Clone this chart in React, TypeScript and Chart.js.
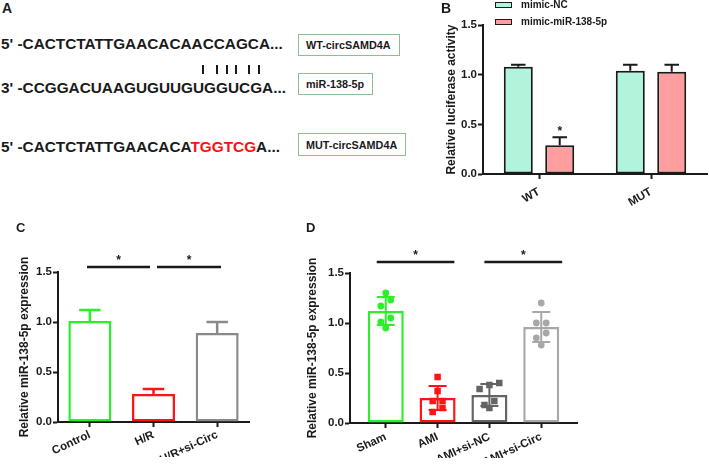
import React, { useEffect, useRef } from "react";
import { Chart, registerables } from "chart.js";

Chart.register(...registerables);

const FONT = "'Liberation Sans', Arial, Helvetica, sans-serif";
const INK = "#1a1a1a";

// ---------- Panel A : sequence alignment ----------
const seqWT = "CACTCTATTGAACACAACCAGCA";
const seqMiR = "CCGGACUAAGUGUUGUGGUCGA";
const seqMutHead = "CACTCTATTGAACACA";
const seqMutSite = "TGGTCG";
const seqMutTail = "A";
const boxLabels = ["WT-circSAMD4A", "miR-138-5p", "MUT-circSAMD4A"];

// ---------- Panel B : luciferase ----------
const bGroups = ["WT", "MUT"];
const bSeries = ["mimic-NC", "mimic-miR-138-5p"];
const bNC = [1.08, 1.04];
const bNCErr = [0.02, 0.06];
const bMiR = [0.29, 1.03];
const bMiRErr = [0.08, 0.07];

// ---------- Panel C ----------
const cGroups = ["Control", "H/R", "H/R+si-Circ"];
const cMeans = [1.01, 0.28, 0.89];
const cErr = [0.11, 0.05, 0.11];

// ---------- Panel D ----------
const dGroups = ["Sham", "AMI", "AMI+si-NC", "AMI+si-Circ"];
const dMeans = [1.12, 0.25, 0.28, 0.96];
const dErr = [0.14, 0.12, 0.11, 0.15];
const dShamPts = [1.3, 1.23, 1.17, 1.05, 1.01, 0.95];
const dAmiPts = [0.46, 0.32, 0.22, 0.22, 0.15, 0.11];
const dAmiNcPts = [0.4, 0.38, 0.34, 0.22, 0.18, 0.15];
const dAmiCircPts = [1.2, 1.0, 1.0, 0.9, 0.85, 0.78];

const yTickValues = [0, 0.5, 1.0, 1.5];

// ---------- styles ----------
const B_COLORS = ["#b0f4dc", "#ff9e9e"];
const C_COLORS = ["#2af02a", "#ff1414", "#8a8a8a"];
const D_COLORS = ["#2af02a", "#ff1414", "#646464", "#a8a8a8"];
const D_STYLES = ["circle", "rect", "rect", "circle"];

function swarmOffsets(values: number[], bin: number, step: number): number[] {
  const order = values.map((_, i) => i).sort((a, b) => values[b] - values[a]);
  const out = new Array(values.length).fill(0);
  let row: number[] = [];
  const flush = () => {
    const n = row.length;
    row.forEach((idx, k) => {
      out[idx] = ((n - 1) / 2 - k) * step;
    });
    row = [];
  };
  order.forEach((idx) => {
    if (row.length && values[row[0]] - values[idx] > bin) flush();
    row.push(idx);
  });
  flush();
  return out;
}

const errorBars = {
  id: "errorBars",
  afterDatasetDraw(chart: any, args: any) {
    const ds = chart.data.datasets[args.index];
    if (!ds.errors) return;
    const ys = chart.scales.y;
    const ctx = chart.ctx;
    ctx.save();
    args.meta.data.forEach((bar: any, i: number) => {
      const mean = ds.means[i];
      const e = ds.errors[i];
      const col = Array.isArray(ds.errorColor) ? ds.errorColor[i] : ds.errorColor;
      const x = bar.x;
      const half = bar.width / 4;
      const top = ys.getPixelForValue(mean + e);
      const bottom = ys.getPixelForValue(ds.errorBoth ? mean - e : mean);
      ctx.strokeStyle = col;
      ctx.lineWidth = ds.errorWidth;
      ctx.beginPath();
      ctx.moveTo(x, bottom);
      ctx.lineTo(x, top);
      ctx.moveTo(x - half, top);
      ctx.lineTo(x + half, top);
      if (ds.errorBoth) {
        ctx.moveTo(x - half, bottom);
        ctx.lineTo(x + half, bottom);
      }
      ctx.stroke();
    });
    ctx.restore();
  },
};

function drawStar(ctx: any, x: number, y: number) {
  ctx.save();
  ctx.fillStyle = INK;
  ctx.font = `bold 12px ${FONT}`;
  ctx.textAlign = "center";
  ctx.textBaseline = "alphabetic";
  ctx.fillText("*", x, y + 7);
  ctx.restore();
}

function makeSig(from: number[], to: number[], level: number, starLevel: number) {
  return {
    id: "sigMarks",
    afterDraw(chart: any) {
      const xs = chart.scales.x;
      const ys = chart.scales.y;
      const ctx = chart.ctx;
      ctx.save();
      ctx.strokeStyle = INK;
      ctx.lineWidth = 2.5;
      from.forEach((f, i) => {
        const x1 = xs.getPixelForValue(f);
        const x2 = xs.getPixelForValue(to[i]);
        const y = ys.getPixelForValue(level);
        ctx.beginPath();
        ctx.moveTo(x1, y);
        ctx.lineTo(x2, y);
        ctx.stroke();
        drawStar(ctx, (x1 + x2) / 2, ys.getPixelForValue(starLevel));
      });
      ctx.restore();
    },
  };
}

function makeBarStar(datasetIndex: number, index: number, value: number) {
  return {
    id: "barStar",
    afterDraw(chart: any) {
      const el = chart.getDatasetMeta(datasetIndex).data[index];
      drawStar(chart.ctx, el.x, chart.scales.y.getPixelForValue(value));
    },
  };
}

const tickFont = { family: FONT, size: 11.5, weight: "bold" as const };

function yAxis(title: string, width: number, titlePad: number) {
  return {
    type: "linear",
    min: 0,
    max: 1.5,
    afterBuildTicks: (s: any) => {
      s.ticks = yTickValues.map((v) => ({ value: v }));
    },
    afterFit: (s: any) => {
      s.width = width;
    },
    ticks: {
      callback: (v: any) => Number(v).toFixed(1),
      font: tickFont,
      color: INK,
      padding: 1,
    },
    grid: {
      display: true,
      drawOnChartArea: false,
      drawTicks: true,
      tickLength: 5,
      tickColor: INK,
      tickWidth: 2,
    },
    border: { display: true, color: INK, width: 2 },
    title: {
      display: true,
      text: title,
      font: { family: FONT, size: 12, weight: "bold" },
      color: INK,
      padding: { top: titlePad, bottom: 0 },
    },
  };
}

function xGrid() {
  return {
    display: true,
    offset: false,
    drawOnChartArea: false,
    drawTicks: true,
    tickLength: 5,
    tickColor: INK,
    tickWidth: 2,
  };
}

function baseOptions(padding: any) {
  return {
    responsive: false,
    animation: false,
    devicePixelRatio: 1,
    layout: { padding },
    plugins: { legend: { display: false }, tooltip: { enabled: false } },
  };
}

function configB(): any {
  return {
    type: "bar",
    data: {
      labels: bGroups,
      datasets: [
        {
          label: bSeries[0],
          data: bNC,
          means: bNC,
          errors: bNCErr,
          errorColor: INK,
          errorWidth: 2,
          backgroundColor: B_COLORS[0],
          borderColor: INK,
          borderWidth: 2,
          borderSkipped: false,
          categoryPercentage: 0.74,
          barPercentage: 0.7,
        },
        {
          label: bSeries[1],
          data: bMiR,
          means: bMiR,
          errors: bMiRErr,
          errorColor: INK,
          errorWidth: 2,
          backgroundColor: B_COLORS[1],
          borderColor: INK,
          borderWidth: 2,
          borderSkipped: false,
          categoryPercentage: 0.74,
          barPercentage: 0.7,
        },
      ],
    },
    options: {
      ...baseOptions({ left: 0, top: 25, right: 2, bottom: 16 }),
      scales: {
        x: {
          type: "category",
          offset: true,
          afterFit: (s: any) => {
            s.height = 40;
          },
          grid: xGrid(),
          border: { display: true, color: INK, width: 2 },
          ticks: { minRotation: 30, maxRotation: 30, autoSkip: false, font: tickFont, color: INK, padding: 6 },
        },
        y: yAxis("Relative luciferase activity", 43, 4.8),
      },
    },
    plugins: [errorBars, makeBarStar(1, 0, 0.46)],
  };
}

function configC(): any {
  return {
    type: "bar",
    data: {
      labels: cGroups,
      datasets: [
        {
          label: "C",
          data: cMeans,
          means: cMeans,
          errors: cErr,
          errorColor: C_COLORS,
          errorWidth: 2.5,
          backgroundColor: "#ffffff",
          borderColor: C_COLORS,
          borderWidth: 2.5,
          borderSkipped: false,
          categoryPercentage: 1,
          barPercentage: 0.675,
        },
      ],
    },
    options: {
      ...baseOptions({ left: 0, top: 57, right: 51, bottom: 10 }),
      scales: {
        x: {
          type: "category",
          offset: true,
          afterFit: (s: any) => {
            s.height = 35;
          },
          grid: xGrid(),
          border: { display: true, color: INK, width: 2 },
          ticks: { minRotation: 25, maxRotation: 25, autoSkip: false, font: tickFont, color: INK, padding: 1 },
        },
        y: yAxis("Relative miR-138-5p expression", 58, 17.8),
      },
    },
    plugins: [errorBars, makeSig([-0.044, 1.055], [0.945, 2.06], 1.55, 1.65)],
  };
}

function configD(): any {
  const groups = [dShamPts, dAmiPts, dAmiNcPts, dAmiCircPts];
  const scatterSets = groups.map((pts, g) => {
    const off = swarmOffsets(pts, 0.065, 0.19);
    return {
      type: "scatter",
      label: dGroups[g],
      data: pts.map((v, k) => ({ x: g + off[k], y: v })),
      pointStyle: D_STYLES[g],
      pointRadius: D_STYLES[g] === "rect" ? 4.6 : 3.4,
      pointHoverRadius: 0,
      backgroundColor: D_COLORS[g],
      borderColor: D_COLORS[g],
      borderWidth: 0,
      order: 1,
      clip: false,
    };
  });
  return {
    type: "bar",
    data: {
      datasets: [
        {
          type: "bar",
          label: "mean",
          data: dMeans.map((m, i) => ({ x: i, y: m })),
          means: dMeans,
          errors: dErr,
          errorBoth: true,
          errorColor: D_COLORS,
          errorWidth: 2,
          backgroundColor: "#ffffff",
          borderColor: D_COLORS,
          borderWidth: 2.5,
          borderSkipped: false,
          categoryPercentage: 1,
          barPercentage: 0.695,
          order: 2,
        },
        ...scatterSets,
      ],
    },
    options: {
      ...baseOptions({ left: 0, top: 58, right: 23, bottom: 9 }),
      scales: {
        x: {
          type: "linear",
          min: -0.69,
          max: 3.69,
          offset: false,
          afterBuildTicks: (s: any) => {
            s.ticks = dGroups.map((_, i) => ({ value: i }));
          },
          afterFit: (s: any) => {
            s.height = 35;
          },
          grid: xGrid(),
          border: { display: true, color: INK, width: 2 },
          ticks: {
            callback: (v: any) => dGroups[v],
            minRotation: 25,
            maxRotation: 25,
            autoSkip: false,
            font: tickFont,
            color: INK,
            padding: 2,
          },
        },
        y: yAxis("Relative miR-138-5p expression", 50, 5.8),
      },
    },
    plugins: [errorBars, makeSig([-0.174, 1.903], [1.324, 3.404], 1.61, 1.71)],
  };
}

function ChartBox(props: { left: number; top: number; width: number; height: number; make: () => any }) {
  const ref = useRef<HTMLCanvasElement>(null);
  useEffect(() => {
    const chart = new Chart(ref.current as HTMLCanvasElement, props.make());
    return () => chart.destroy();
  }, []);
  return (
    <canvas
      ref={ref}
      width={props.width}
      height={props.height}
      style={{ position: "absolute", left: props.left, top: props.top, width: props.width, height: props.height }}
    />
  );
}

function Txt(props: { x: number; base: number; size: number; color?: string; children: any }) {
  const { x, base, size } = props;
  return (
    <div
      style={{
        position: "absolute",
        left: x,
        top: base - 0.8465 * size,
        fontSize: size,
        lineHeight: `${size}px`,
        fontWeight: 700,
        fontFamily: FONT,
        color: props.color || INK,
        whiteSpace: "pre",
      }}
    >
      {props.children}
    </div>
  );
}

function LabelBox(props: { x: number; y: number; w: number; h: number; text: string }) {
  return (
    <div
      style={{
        position: "absolute",
        left: props.x,
        top: props.y,
        width: props.w,
        height: props.h,
        boxSizing: "border-box",
        border: "1.5px solid #8cbf8c",
        display: "flex",
        alignItems: "center",
        paddingLeft: 7,
        fontFamily: FONT,
        fontWeight: 700,
        fontSize: 10.8,
        color: INK,
        whiteSpace: "pre",
      }}
    >
      {props.text}
    </div>
  );
}

const pairBarX = [203, 216.5, 226.5, 236, 249, 259];
const SEQ_SIZE = 15.35;

export default function App() {
  return (
    <div style={{ position: "absolute", left: 0, top: 0, width: 709, height: 467, background: "#fff", overflow: "hidden" }}>
      <ChartBox left={440} top={0} width={269} height={230} make={configB} />
      <ChartBox left={0} top={215} width={300} height={252} make={configC} />
      <ChartBox left={300} top={215} width={300} height={252} make={configD} />

      {/* Panel A */}
      <Txt x={2} base={13.3} size={14}>A</Txt>
      <Txt x={1} base={49} size={SEQ_SIZE}>{"5' -" + seqWT + "..."}</Txt>
      <Txt x={1} base={93} size={SEQ_SIZE}>{"3' -" + seqMiR + "..."}</Txt>
      <Txt x={1} base={151.5} size={SEQ_SIZE}>
        {"5' -" + seqMutHead}
        <span style={{ color: "#ff1010" }}>{seqMutSite}</span>
        {seqMutTail + "..."}
      </Txt>
      {pairBarX.map((x, i) => (
        <div key={i} style={{ position: "absolute", left: x - 1, top: 65, width: 2, height: 9, background: INK }} />
      ))}
      <LabelBox x={298} y={34} w={102} h={22} text={boxLabels[0]} />
      <LabelBox x={298} y={73} w={75} h={22} text={boxLabels[1]} />
      <LabelBox x={298} y={133} w={108} h={23} text={boxLabels[2]} />

      {/* Panel B legend */}
      <Txt x={441} base={13.3} size={14}>B</Txt>
      <div style={{ position: "absolute", left: 495, top: 2, width: 17, height: 6, boxSizing: "border-box", border: `1.5px solid ${INK}`, background: B_COLORS[0] }} />
      <Txt x={521} base={8.8} size={10}>{bSeries[0]}</Txt>
      <div style={{ position: "absolute", left: 495, top: 18.5, width: 17, height: 6, boxSizing: "border-box", border: `1.5px solid ${INK}`, background: B_COLORS[1] }} />
      <Txt x={521} base={25} size={10}>{bSeries[1]}</Txt>

      <Txt x={16} base={232} size={13}>C</Txt>
      <Txt x={306} base={232} size={13}>D</Txt>
    </div>
  );
}
